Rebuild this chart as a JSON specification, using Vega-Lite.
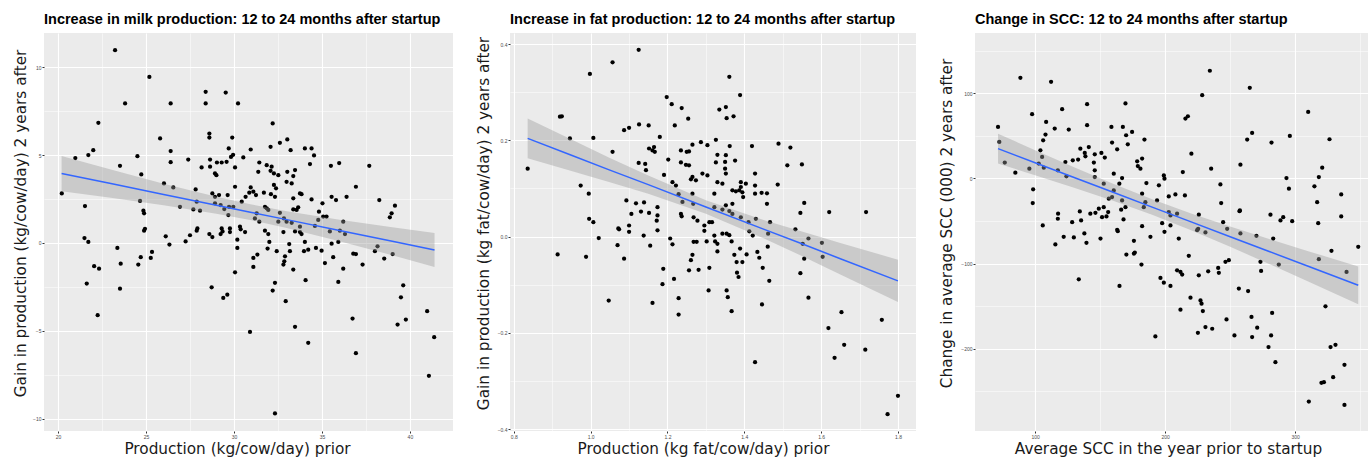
{
  "$schema": "https://vega.github.io/schema/vega-lite/v6.json",
  "padding": {"left": 13, "top": 11, "right": 0, "bottom": 0},
  "background": "white",
  "spacing": 23,
  "config": {
    "view": {"fill": "#EBEBEB", "stroke": null},
    "font": "Liberation Sans",
    "title": {"fontSize": 14.5, "fontWeight": "bold", "color": "#000000", "anchor": "start", "frame": "group", "offset": 6, "font": "Liberation Sans"},
    "axis": {
      "domain": false,
      "gridColor": "#FFFFFF",
      "tickColor": "#333333",
      "tickSize": 2,
      "labelFontSize": 5,
      "labelColor": "#4D4D4D",
      "labelPadding": 1,
      "labelFlush": false,
      "labelOverlap": false,
      "titleFontSize": 15.3,
      "titleFontWeight": "normal",
      "titleColor": "#1A1A1A",
      "titleFont": "DejaVu Sans",
      "labelFont": "Liberation Sans"
    },
    "axisX": {"titlePadding": 2, "titleX": 193},
    "axisY": {"titlePadding": 4, "minExtent": 12, "maxExtent": 12, "titleY": 190}
  },
  "datasets": {
    "milk": [
      {"x":23.24,"y":10.97},{"x":25.19,"y":9.45},{"x":23.81,"y":7.94},{"x":28.39,"y":8.60},{"x":29.53,"y":8.56},{"x":28.39,"y":7.94},{"x":26.40,"y":7.94},{"x":30.23,"y":7.94},{"x":22.29,"y":6.84},{"x":32.20,"y":6.80},
      {"x":25.80,"y":5.95},{"x":28.60,"y":6.23},{"x":28.60,"y":6.00},{"x":29.90,"y":6.00},{"x":33.03,"y":5.89},{"x":32.61,"y":5.70},{"x":22.00,"y":5.28},{"x":21.72,"y":5.00},{"x":20.98,"y":4.83},{"x":24.51,"y":4.94},
      {"x":26.40,"y":5.23},{"x":26.40,"y":4.60},{"x":29.70,"y":5.38},{"x":30.95,"y":5.32},{"x":32.08,"y":5.47},{"x":33.22,"y":5.28},{"x":34.03,"y":5.38},{"x":34.41,"y":5.38},{"x":34.55,"y":4.98},{"x":29.83,"y":4.90},
      {"x":29.95,"y":5.02},{"x":27.40,"y":4.75},{"x":28.64,"y":4.75},{"x":29.03,"y":4.58},{"x":29.30,"y":4.58},{"x":29.58,"y":4.62},{"x":30.53,"y":4.87},{"x":28.16,"y":4.30},{"x":28.64,"y":4.34},{"x":30.06,"y":4.30},
      {"x":31.44,"y":4.58},{"x":31.86,"y":4.43},{"x":32.14,"y":4.34},{"x":31.38,"y":4.05},{"x":32.08,"y":4.11},{"x":32.27,"y":3.96},{"x":32.52,"y":3.86},{"x":33.03,"y":4.05},{"x":33.47,"y":4.15},{"x":33.37,"y":3.81},
      {"x":34.32,"y":4.49},{"x":35.51,"y":4.39},{"x":35.98,"y":4.55},{"x":37.69,"y":4.39},{"x":23.52,"y":4.39},{"x":24.73,"y":3.90},{"x":28.92,"y":3.96},{"x":29.00,"y":3.86},{"x":26.02,"y":3.39},{"x":26.55,"y":3.16},
      {"x":27.82,"y":3.05},{"x":20.21,"y":2.82},{"x":21.53,"y":2.10},{"x":24.66,"y":2.39},{"x":24.85,"y":1.84},{"x":24.89,"y":1.69},{"x":26.93,"y":2.06},{"x":27.69,"y":1.91},{"x":28.07,"y":1.84},{"x":27.88,"y":2.35},
      {"x":28.77,"y":2.82},{"x":28.92,"y":2.63},{"x":29.15,"y":2.73},{"x":29.64,"y":2.73},{"x":28.92,"y":2.26},{"x":29.24,"y":2.16},{"x":29.45,"y":1.93},{"x":29.72,"y":2.06},{"x":29.96,"y":2.06},{"x":29.68,"y":1.59},
      {"x":30.06,"y":3.20},{"x":30.44,"y":2.35},{"x":30.66,"y":2.63},{"x":30.87,"y":2.86},{"x":30.95,"y":3.16},{"x":31.10,"y":2.92},{"x":31.25,"y":2.73},{"x":31.70,"y":2.86},{"x":32.10,"y":2.78},{"x":32.27,"y":3.30},
      {"x":32.39,"y":3.11},{"x":32.33,"y":2.63},{"x":32.99,"y":3.48},{"x":33.28,"y":3.39},{"x":33.75,"y":2.82},{"x":33.84,"y":2.78},{"x":33.37,"y":2.54},{"x":34.41,"y":2.48},{"x":35.03,"y":2.26},{"x":35.55,"y":2.63},
      {"x":35.80,"y":2.44},{"x":36.40,"y":2.63},{"x":36.93,"y":3.20},{"x":38.26,"y":2.44},{"x":39.15,"y":2.12},{"x":38.96,"y":1.69},{"x":38.86,"y":1.46},{"x":31.76,"y":2.06},{"x":31.86,"y":1.97},{"x":31.95,"y":1.88},
      {"x":32.61,"y":1.72},{"x":32.84,"y":1.40},{"x":32.52,"y":1.21},{"x":32.99,"y":1.21},{"x":33.37,"y":1.91},{"x":33.56,"y":1.88},{"x":33.65,"y":2.03},{"x":33.28,"y":1.15},{"x":31.29,"y":1.69},{"x":31.19,"y":1.40},
      {"x":31.44,"y":1.21},{"x":30.34,"y":0.93},{"x":30.38,"y":0.78},{"x":27.92,"y":0.83},{"x":29.30,"y":0.83},{"x":29.77,"y":0.83},{"x":24.94,"y":0.81},{"x":34.83,"y":1.78},{"x":34.79,"y":1.31},{"x":35.07,"y":1.50},
      {"x":35.26,"y":1.50},{"x":36.21,"y":1.21},{"x":34.60,"y":0.97},{"x":33.75,"y":0.93},
      {"x":21.50,"y":0.28},{"x":21.72,"y":0.06},{"x":24.89,"y":0.70},{"x":26.12,"y":0.38},{"x":26.33,"y":-0.09},{"x":27.25,"y":0.09},{"x":27.50,"y":0.44},{"x":27.88,"y":0.70},{"x":28.60,"y":0.51},{"x":28.77,"y":0.34},
      {"x":29.24,"y":0.51},{"x":29.35,"y":0.66},{"x":29.77,"y":0.62},{"x":30.19,"y":0.19},{"x":30.19,"y":-0.28},{"x":30.63,"y":0.62},{"x":31.76,"y":0.70},{"x":31.95,"y":0.51},{"x":32.01,"y":0.06},{"x":31.91,"y":-0.32},
      {"x":32.43,"y":-0.47},{"x":32.81,"y":0.62},{"x":33.47,"y":0.66},{"x":33.75,"y":0.62},{"x":33.84,"y":0.51},{"x":33.14,"y":-0.06},{"x":33.18,"y":-0.47},{"x":32.90,"y":-0.76},{"x":32.81,"y":-1.23},{"x":32.86,"y":-1.04},
      {"x":33.37,"y":-1.51},{"x":34.03,"y":0.06},{"x":33.98,"y":-0.47},{"x":34.22,"y":-0.38},{"x":34.66,"y":-0.28},{"x":34.98,"y":-0.44},{"x":35.17,"y":-1.14},{"x":35.45,"y":0.66},{"x":35.55,"y":-0.04},{"x":35.93,"y":0.06},
      {"x":36.02,"y":0.70},{"x":36.31,"y":0.51},{"x":35.64,"y":-0.81},{"x":36.21,"y":-1.46},{"x":35.93,"y":-2.22},{"x":36.78,"y":-0.61},{"x":36.93,"y":-0.63},{"x":37.31,"y":-1.23},{"x":38.01,"y":-0.47},{"x":38.16,"y":-0.19},
      {"x":38.54,"y":-0.89},{"x":39.02,"y":-0.63},{"x":23.37,"y":-0.28},{"x":23.56,"y":-1.18},{"x":23.52,"y":-2.60},{"x":22.05,"y":-1.32},{"x":22.33,"y":-1.46},{"x":21.63,"y":-2.31},{"x":22.25,"y":-4.11},{"x":24.56,"y":-1.23},
      {"x":24.70,"y":-0.81},{"x":25.27,"y":-0.85},{"x":25.34,"y":-0.51},{"x":28.73,"y":-2.52},{"x":29.39,"y":-3.13},{"x":29.62,"y":-2.94},{"x":30.06,"y":-1.67},{"x":31.10,"y":-1.36},{"x":31.10,"y":-0.85},{"x":31.33,"y":-0.66},
      {"x":32.33,"y":-2.27},{"x":32.20,"y":-2.71},{"x":32.94,"y":-3.31},{"x":30.91,"y":-5.06},{"x":33.47,"y":-4.77},{"x":34.22,"y":-5.68},{"x":34.07,"y":-2.12},{"x":36.74,"y":-4.30},{"x":36.93,"y":-6.27},{"x":39.62,"y":-2.41},
      {"x":39.49,"y":-3.09},{"x":39.30,"y":-4.64},{"x":39.77,"y":-4.36},{"x":40.98,"y":-3.88},{"x":41.38,"y":-5.36},{"x":41.08,"y":-7.56},{"x":32.33,"y":-9.70}
    ],
    "milkfit": [
      {"x":20.2,"fit":3.95,"lo":2.95,"hi":4.95},{"x":23,"fit":3.38,"lo":2.58,"hi":4.18},{"x":26,"fit":2.76,"lo":2.15,"hi":3.37},{"x":29,"fit":2.15,"lo":1.67,"hi":2.63},{"x":31,"fit":1.74,"lo":1.29,"hi":2.19},
      {"x":33,"fit":1.33,"lo":0.85,"hi":1.81},{"x":36,"fit":0.71,"lo":0.10,"hi":1.32},{"x":39,"fit":0.10,"lo":-0.70,"hi":0.90},{"x":41.4,"fit":-0.40,"lo":-1.37,"hi":0.57}
    ],
    "fat": [
      {"x":1.125,"y":0.388},{"x":1.057,"y":0.362},{"x":0.998,"y":0.338},{"x":1.361,"y":0.332},{"x":1.198,"y":0.290},{"x":1.389,"y":0.294},{"x":1.211,"y":0.275},{"x":1.237,"y":0.267},{"x":1.254,"y":0.245},{"x":1.335,"y":0.264},
      {"x":1.352,"y":0.269},{"x":1.354,"y":0.246},{"x":1.372,"y":0.250},{"x":0.920,"y":0.249},{"x":0.925,"y":0.250},{"x":1.087,"y":0.221},{"x":1.100,"y":0.226},{"x":1.126,"y":0.233},{"x":1.151,"y":0.231},{"x":1.219,"y":0.231},
      {"x":0.946,"y":0.204},{"x":1.007,"y":0.205},{"x":1.180,"y":0.207},{"x":1.152,"y":0.183},{"x":1.161,"y":0.179},{"x":1.167,"y":0.176},{"x":1.165,"y":0.186},{"x":1.057,"y":0.176},{"x":0.836,"y":0.141},{"x":1.125,"y":0.153},
      {"x":1.142,"y":0.151},{"x":1.144,"y":0.138},{"x":1.202,"y":0.160},{"x":1.235,"y":0.179},{"x":1.250,"y":0.176},{"x":1.256,"y":0.177},{"x":1.265,"y":0.191},{"x":1.287,"y":0.196},{"x":1.304,"y":0.190},{"x":1.326,"y":0.201},
      {"x":1.362,"y":0.188},{"x":1.420,"y":0.188},{"x":1.489,"y":0.193},{"x":1.520,"y":0.185},{"x":1.235,"y":0.154},{"x":1.248,"y":0.149},{"x":1.256,"y":0.148},{"x":1.330,"y":0.170},{"x":1.352,"y":0.169},{"x":1.350,"y":0.155},
      {"x":1.326,"y":0.154},{"x":1.376,"y":0.158},{"x":1.512,"y":0.148},{"x":1.550,"y":0.150},{"x":1.191,"y":0.128},{"x":1.213,"y":0.113},{"x":1.222,"y":0.106},{"x":1.265,"y":0.124},{"x":1.274,"y":0.117},{"x":1.261,"y":0.119},
      {"x":1.304,"y":0.127},{"x":1.291,"y":0.131},{"x":1.350,"y":0.141},{"x":1.352,"y":0.131},{"x":1.428,"y":0.131},{"x":1.330,"y":0.113},{"x":1.343,"y":0.110},{"x":1.391,"y":0.113},{"x":1.404,"y":0.110},{"x":1.391,"y":0.103},
      {"x":1.387,"y":0.096},{"x":1.378,"y":0.094},{"x":1.428,"y":0.106},{"x":1.487,"y":0.108},{"x":0.974,"y":0.106},{"x":0.995,"y":0.089},{"x":1.229,"y":0.088},{"x":1.239,"y":0.072},{"x":1.265,"y":0.089},{"x":1.267,"y":0.068},
      {"x":1.322,"y":0.089},{"x":1.369,"y":0.096},{"x":1.397,"y":0.082},{"x":1.395,"y":0.092},{"x":1.428,"y":0.089},{"x":1.445,"y":0.091},{"x":1.459,"y":0.090},{"x":1.459,"y":0.068},{"x":1.556,"y":0.070},{"x":1.546,"y":0.049},
      {"x":1.621,"y":0.051},{"x":1.717,"y":0.051},{"x":1.093,"y":0.075},{"x":1.118,"y":0.069},{"x":1.139,"y":0.071},{"x":1.106,"y":0.047},{"x":1.131,"y":0.052},{"x":1.152,"y":0.049},{"x":1.174,"y":0.061},{"x":1.174,"y":0.044},
      {"x":1.172,"y":0.033},{"x":0.996,"y":0.037},{"x":1.007,"y":0.030},{"x":1.072,"y":0.017},{"x":1.100,"y":0.023},{"x":1.235,"y":0.047},{"x":1.237,"y":0.042},{"x":1.268,"y":0.040},{"x":1.278,"y":0.033},{"x":1.296,"y":0.023},
      {"x":1.309,"y":0.030},{"x":1.316,"y":0.030},{"x":1.322,"y":0.061},{"x":1.343,"y":0.056},{"x":1.352,"y":0.065},{"x":1.361,"y":0.053},{"x":1.369,"y":0.068},{"x":1.369,"y":0.047},{"x":1.391,"y":0.040},{"x":1.411,"y":0.030},
      {"x":1.430,"y":0.037},{"x":1.467,"y":0.030},{"x":1.533,"y":0.015},
      {"x":1.074,"y":0.015},{"x":1.100,"y":0.010},{"x":1.174,"y":0.013},{"x":1.296,"y":0.012},{"x":1.413,"y":0.011},{"x":1.422,"y":0.002},{"x":1.462,"y":0.006},{"x":1.021,"y":-0.003},{"x":0.914,"y":-0.037},{"x":0.988,"y":-0.042},
      {"x":1.070,"y":-0.018},{"x":1.087,"y":-0.046},{"x":1.138,"y":0.002},{"x":1.155,"y":-0.019},{"x":1.047,"y":-0.133},{"x":1.161,"y":-0.138},{"x":1.189,"y":-0.067},{"x":1.187,"y":-0.099},{"x":1.217,"y":-0.088},{"x":1.229,"y":-0.128},
      {"x":1.229,"y":-0.162},{"x":1.207,"y":-0.004},{"x":1.213,"y":-0.016},{"x":1.256,"y":-0.070},{"x":1.261,"y":-0.049},{"x":1.265,"y":-0.038},{"x":1.281,"y":-0.069},{"x":1.268,"y":-0.011},{"x":1.276,"y":-0.011},{"x":1.302,"y":-0.010},
      {"x":1.309,"y":-0.065},{"x":1.307,"y":-0.112},{"x":1.322,"y":0.002},{"x":1.324,"y":-0.010},{"x":1.330,"y":-0.015},{"x":1.330,"y":-0.031},{"x":1.343,"y":0.006},{"x":1.354,"y":0.006},{"x":1.361,"y":0.003},{"x":1.367,"y":-0.010},
      {"x":1.354,"y":-0.112},{"x":1.357,"y":-0.126},{"x":1.367,"y":-0.155},{"x":1.374,"y":-0.038},{"x":1.380,"y":-0.053},{"x":1.381,"y":-0.075},{"x":1.385,"y":-0.084},{"x":1.389,"y":-0.025},{"x":1.395,"y":-0.053},{"x":1.406,"y":-0.037},
      {"x":1.434,"y":-0.032},{"x":1.439,"y":-0.044},{"x":1.448,"y":-0.065},{"x":1.461,"y":-0.021},{"x":1.446,"y":-0.141},{"x":1.465,"y":-0.092},{"x":1.546,"y":-0.076},{"x":1.556,"y":-0.046},{"x":1.567,"y":-0.127},{"x":1.552,"y":-0.015},
      {"x":1.567,"y":-0.004},{"x":1.602,"y":-0.013},{"x":1.604,"y":-0.042},{"x":1.428,"y":-0.261},{"x":1.619,"y":-0.190},{"x":1.653,"y":-0.157},{"x":1.635,"y":-0.252},{"x":1.660,"y":-0.225},{"x":1.715,"y":-0.235},{"x":1.758,"y":-0.173},
      {"x":1.800,"y":-0.331},{"x":1.773,"y":-0.369}
    ],
    "fatfit": [
      {"x":0.836,"fit":0.204,"lo":0.1625,"hi":0.2455},{"x":0.95,"fit":0.169,"lo":0.1364,"hi":0.2016},{"x":1.05,"fit":0.138,"lo":0.1127,"hi":0.1633},{"x":1.15,"fit":0.108,"lo":0.0891,"hi":0.1269},{"x":1.3,"fit":0.0616,"lo":0.0476,"hi":0.0756},
      {"x":1.45,"fit":0.0155,"lo":-0.0034,"hi":0.0344},{"x":1.55,"fit":-0.015,"lo":-0.0403,"hi":0.0103},{"x":1.65,"fit":-0.046,"lo":-0.0786,"hi":-0.0134},{"x":1.80,"fit":-0.092,"lo":-0.136,"hi":-0.048}
    ],
    "scc": [
      {"x":88.7,"y":118},{"x":112.3,"y":113.3},{"x":234.4,"y":126.3},{"x":265.1,"y":106.2},{"x":228.5,"y":97.6},{"x":310,"y":78},{"x":140,"y":87},{"x":169.5,"y":87.9},{"x":120.8,"y":81.2},{"x":97.7,"y":75.3},
      {"x":108.5,"y":66.2},{"x":108,"y":51.4},{"x":106.2,"y":44.7},{"x":104.1,"y":32.9},{"x":105.4,"y":25.1},{"x":71.5,"y":60.4},{"x":72.5,"y":42.7},{"x":115.1,"y":58.5},{"x":125.9,"y":57.3},{"x":140,"y":62.4},
      {"x":158.7,"y":60.4},{"x":167.5,"y":60.4},{"x":174.6,"y":54.5},{"x":170,"y":50.6},{"x":215.6,"y":70.2},{"x":217.5,"y":72.9},{"x":266.9,"y":53.3},{"x":263.1,"y":45.5},{"x":295.9,"y":49.8},{"x":281.8,"y":42},
      {"x":326.4,"y":45.9},{"x":76.7,"y":18.5},{"x":84.8,"y":6.7},{"x":95.6,"y":11.4},{"x":102.8,"y":17.3},{"x":106.7,"y":12.6},{"x":117.5,"y":9.4},{"x":123.3,"y":19.2},{"x":124.1,"y":2.4},{"x":129,"y":21.2},
      {"x":133.1,"y":22},{"x":134.8,"y":34.9},{"x":138.2,"y":29.8},{"x":138.7,"y":25.9},{"x":141.3,"y":36.8},{"x":145.9,"y":28.2},{"x":145.2,"y":18.5},{"x":145.9,"y":9.4},{"x":145.9,"y":1.5},{"x":151,"y":29.8},
      {"x":153.6,"y":24.4},{"x":152.8,"y":-6.2},{"x":159.2,"y":42},{"x":163.1,"y":34.1},{"x":160.5,"y":5.5},{"x":166.9,"y":0.4},{"x":164.8,"y":-6.2},{"x":160.5,"y":-14.1},{"x":171.3,"y":40},{"x":182.3,"y":23.2},
      {"x":184.1,"y":45.5},{"x":178.5,"y":20},{"x":181,"y":11.4},{"x":179,"y":14.5},{"x":199,"y":3.5},{"x":199.5,"y":-0.4},{"x":195.2,"y":-8.2},{"x":185.6,"y":-5.5},{"x":202.8,"y":-21.2},{"x":207.9,"y":-18.8},
      {"x":213.6,"y":7.4},{"x":215.2,"y":-20},{"x":220.2,"y":29},{"x":235.4,"y":11.4},{"x":257.9,"y":16.1},{"x":242.5,"y":-7.1},{"x":243.1,"y":-29},{"x":257.5,"y":-37.6},{"x":293.3,"y":0.4},{"x":295.2,"y":-12.1},
      {"x":318.2,"y":1.5},{"x":320.8,"y":12.6},{"x":314.8,"y":-9.4},{"x":316.9,"y":-27.9},{"x":335.4,"y":-18.8},{"x":335.4,"y":-44.7},{"x":317.7,"y":-52.6},{"x":281,"y":-42.7},{"x":288.7,"y":-49.4},{"x":290.8,"y":-45.5},
      {"x":297.7,"y":-50.2},{"x":98.5,"y":-12.9},{"x":98.2,"y":-29},{"x":117.7,"y":-41.5},{"x":117.5,"y":-47.4},{"x":128.5,"y":-51.4},{"x":135.4,"y":-49.4},{"x":134.4,"y":-38.8},{"x":142.5,"y":-41.5},{"x":146.4,"y":-40.4},
      {"x":149,"y":-35.6},{"x":151.5,"y":-45.5},{"x":156.2,"y":-39.6},{"x":154.9,"y":-44.7},{"x":166.2,"y":-36.8},{"x":168,"y":-48.2},{"x":105.9,"y":-55.3},{"x":163.1,"y":-60.4},{"x":182.3,"y":-56.1},{"x":197.7,"y":-52.6},
      {"x":204.1,"y":-55.3},{"x":225.9,"y":-42.7},{"x":225.4,"y":-59.2},{"x":244.6,"y":-51.4},{"x":247.7,"y":-59.2},{"x":257.2,"y":-38.5},{"x":183.6,"y":-33.8},{"x":184.8,"y":-27.9},{"x":182.3,"y":-18},{"x":193.8,"y":-25.9},
      {"x":202.8,"y":-39.6},{"x":204.1,"y":-43.5},{"x":209.2,"y":-41.5},{"x":156.7,"y":-23.9},{"x":159.2,"y":-22},{"x":152.8,"y":-33.8},{"x":166.9,"y":-25.9},{"x":169.5,"y":-33.8},
      {"x":115.6,"y":-77.6},{"x":122,"y":-68.6},{"x":129.8,"y":-69.4},{"x":137.9,"y":-64.7},{"x":139.5,"y":-75.7},{"x":150.3,"y":-70.6},{"x":163.6,"y":-62},{"x":176,"y":-73.3},{"x":188.7,"y":-68.6},{"x":199.5,"y":-62.7},
      {"x":210.5,"y":-70.6},{"x":224.6,"y":-60.8},{"x":231,"y":-63.5},{"x":257.9,"y":-64.7},{"x":270.2,"y":-67.4},{"x":283.1,"y":-70.6},{"x":170.2,"y":-89.4},{"x":176,"y":-88.2},{"x":176.7,"y":-87.1},{"x":181.8,"y":-101.2},
      {"x":218.2,"y":-90.9},{"x":133.6,"y":-118.5},{"x":164.9,"y":-126.3},{"x":196.4,"y":-116.8},{"x":199,"y":-122.4},{"x":204.1,"y":-126.3},{"x":209.2,"y":-107.9},{"x":211.8,"y":-109.8},{"x":213.1,"y":-112.9},{"x":225.9,"y":-113.8},
      {"x":233.1,"y":-109.1},{"x":240.8,"y":-105.1},{"x":241.3,"y":-110.9},{"x":246.4,"y":-98},{"x":249,"y":-96.1},{"x":273.3,"y":-98},{"x":273.8,"y":-108.6},{"x":287.4,"y":-101.2},{"x":318.2,"y":-94.9},{"x":327.9,"y":-85.1},
      {"x":339.5,"y":-109.8},{"x":348.5,"y":-80.4},{"x":219.5,"y":-140},{"x":227.2,"y":-143.2},{"x":228,"y":-147.1},{"x":229,"y":-155.7},{"x":211.8,"y":-154.1},{"x":256.7,"y":-129.4},{"x":263.8,"y":-132.2},{"x":247.2,"y":-165.5},
      {"x":253.3,"y":-184.4},{"x":266.4,"y":-162.7},{"x":270.8,"y":-175.3},{"x":282.3,"y":-158},{"x":266.9,"y":-186.2},{"x":281.5,"y":-184.4},{"x":279.5,"y":-198},{"x":284.8,"y":-215.7},{"x":231,"y":-174.5},{"x":236.2,"y":-176.5},
      {"x":225.2,"y":-181.2},{"x":192.5,"y":-185.5},{"x":323.3,"y":-150.2},{"x":327.2,"y":-198},{"x":331,"y":-195.3},{"x":337.9,"y":-218.8},{"x":329.2,"y":-233.3},{"x":322.1,"y":-239.2},{"x":320.2,"y":-240},{"x":310.5,"y":-262},
      {"x":337.9,"y":-265.9}
    ],
    "sccfit": [
      {"x":71.5,"fit":34.9,"lo":17.3,"hi":52.5},{"x":100,"fit":18.4,"lo":3.8,"hi":33.0},{"x":130,"fit":1.0,"lo":-10.9,"hi":12.9},{"x":160,"fit":-16.3,"lo":-26.2,"hi":-6.4},{"x":190,"fit":-33.7,"lo":-42.8,"hi":-24.6},
      {"x":220,"fit":-51.1,"lo":-61.0,"hi":-41.2},{"x":250,"fit":-68.5,"lo":-80.4,"hi":-56.6},{"x":280,"fit":-85.8,"lo":-100.4,"hi":-71.2},{"x":310,"fit":-103.2,"lo":-121.0,"hi":-85.4},{"x":348.5,"fit":-125.5,"lo":-147.6,"hi":-103.4}
    ]
  },
  "hconcat": [
    {
      "width": 409, "height": 398,
      "title": "Increase in milk production: 12 to 24 months after startup",
      "encoding": {
        "x": {"field": "x", "type": "quantitative", "title": "Production (kg/cow/day) prior",
          "scale": {"domain": [19.2, 42.45], "nice": false, "zero": false},
          "axis": {"values": [20, 22.5, 25, 27.5, 30, 32.5, 35, 37.5, 40],
            "labelExpr": "datum.value % 5 === 0 ? datum.label : ''",
            "gridWidth": {"condition": {"test": "datum.value % 5 !== 0", "value": 0.5}, "value": 1.1},
            "tickOpacity": {"condition": {"test": "datum.value % 5 !== 0", "value": 0}, "value": 1}}}
      },
      "layer": [
        {"data": {"name": "milk"}, "mark": {"type": "point", "filled": true, "size": 18, "color": "#000000", "opacity": 1},
          "encoding": {"y": {"field": "y", "type": "quantitative", "title": "Gain in production (kg/cow/day) 2 years after",
            "scale": {"domain": [-10.7, 11.95], "nice": false, "zero": false},
            "axis": {"values": [-10, -7.5, -5, -2.5, 0, 2.5, 5, 7.5, 10], "titlePadding": 4,
              "labelExpr": "datum.value % 5 === 0 ? datum.label : ''",
              "gridWidth": {"condition": {"test": "datum.value % 5 !== 0", "value": 0.5}, "value": 1.1},
              "tickOpacity": {"condition": {"test": "datum.value % 5 !== 0", "value": 0}, "value": 1}}}}},
        {"data": {"name": "milkfit"}, "mark": {"type": "area", "color": "#999999", "opacity": 0.4},
          "encoding": {"y": {"field": "lo", "type": "quantitative", "title": "Gain in production (kg/cow/day) 2 years after"}, "y2": {"field": "hi"}}},
        {"data": {"name": "milkfit"}, "mark": {"type": "line", "color": "#3366FF", "strokeWidth": 1.5},
          "encoding": {"y": {"field": "fit", "type": "quantitative", "title": "Gain in production (kg/cow/day) 2 years after"}}}
      ]
    },
    {
      "width": 406, "height": 398,
      "title": "Increase in fat production: 12 to 24 months after startup",
      "encoding": {
        "x": {"field": "x", "type": "quantitative", "title": "Production (kg fat/cow/day) prior",
          "scale": {"domain": [0.79, 1.847], "nice": false, "zero": false},
          "axis": {"values": [0.8, 0.9, 1.0, 1.1, 1.2, 1.3, 1.4, 1.5, 1.6, 1.7, 1.8], "format": ".1f",
            "labelExpr": "abs(round(datum.value*10) % 2) === 1 ? '' : datum.label",
            "gridWidth": {"condition": {"test": "abs(round(datum.value*10) % 2) === 1", "value": 0.5}, "value": 1.1},
            "tickOpacity": {"condition": {"test": "abs(round(datum.value*10) % 2) === 1", "value": 0}, "value": 1}}}
      },
      "layer": [
        {"data": {"name": "fat"}, "mark": {"type": "point", "filled": true, "size": 18, "color": "#000000", "opacity": 1},
          "encoding": {"y": {"field": "y", "type": "quantitative", "title": "Gain in production (kg fat/cow/day) 2 years after",
            "scale": {"domain": [-0.404, 0.423], "nice": false, "zero": false},
            "axis": {"values": [-0.4, -0.3, -0.2, -0.1, 0, 0.1, 0.2, 0.3, 0.4], "format": ".1f", "titlePadding": 7,
              "labelExpr": "abs(round(datum.value*10) % 2) === 1 ? '' : datum.label",
              "gridWidth": {"condition": {"test": "abs(round(datum.value*10) % 2) === 1", "value": 0.5}, "value": 1.1},
              "tickOpacity": {"condition": {"test": "abs(round(datum.value*10) % 2) === 1", "value": 0}, "value": 1}}}}},
        {"data": {"name": "fatfit"}, "mark": {"type": "area", "color": "#999999", "opacity": 0.4},
          "encoding": {"y": {"field": "lo", "type": "quantitative", "title": "Gain in production (kg fat/cow/day) 2 years after"}, "y2": {"field": "hi"}}},
        {"data": {"name": "fatfit"}, "mark": {"type": "line", "color": "#3366FF", "strokeWidth": 1.5},
          "encoding": {"y": {"field": "fit", "type": "quantitative", "title": "Gain in production (kg fat/cow/day) 2 years after"}}}
      ]
    },
    {
      "width": 393, "height": 398,
      "title": "Change in SCC: 12 to 24 months after startup",
      "encoding": {
        "x": {"field": "x", "type": "quantitative", "title": "Average SCC in the year prior to startup",
          "scale": {"domain": [53.8, 356], "nice": false, "zero": false},
          "axis": {"values": [100, 150, 200, 250, 300, 350], "format": "d",
            "labelExpr": "datum.value % 100 === 0 ? datum.label : ''",
            "gridWidth": {"condition": {"test": "datum.value % 100 !== 0", "value": 0.5}, "value": 1.1},
            "tickOpacity": {"condition": {"test": "datum.value % 100 !== 0", "value": 0}, "value": 1}}}
      },
      "layer": [
        {"data": {"name": "scc"}, "mark": {"type": "point", "filled": true, "size": 18, "color": "#000000", "opacity": 1},
          "encoding": {"y": {"field": "y", "type": "quantitative", "title": "Change in average SCC (000) 2 years after",
            "scale": {"domain": [-296.5, 170.6], "nice": false, "zero": false},
            "axis": {"values": [-250, -200, -150, -100, -50, 0, 50, 100, 150], "format": "d", "titlePadding": 9,
              "labelExpr": "datum.value % 100 === 0 ? datum.label : ''",
              "gridWidth": {"condition": {"test": "datum.value % 100 !== 0", "value": 0.5}, "value": 1.1},
              "tickOpacity": {"condition": {"test": "datum.value % 100 !== 0", "value": 0}, "value": 1}}}}},
        {"data": {"name": "sccfit"}, "mark": {"type": "area", "color": "#999999", "opacity": 0.4},
          "encoding": {"y": {"field": "lo", "type": "quantitative", "title": "Change in average SCC (000) 2 years after"}, "y2": {"field": "hi"}}},
        {"data": {"name": "sccfit"}, "mark": {"type": "line", "color": "#3366FF", "strokeWidth": 1.5},
          "encoding": {"y": {"field": "fit", "type": "quantitative", "title": "Change in average SCC (000) 2 years after"}}}
      ]
    }
  ]
}
